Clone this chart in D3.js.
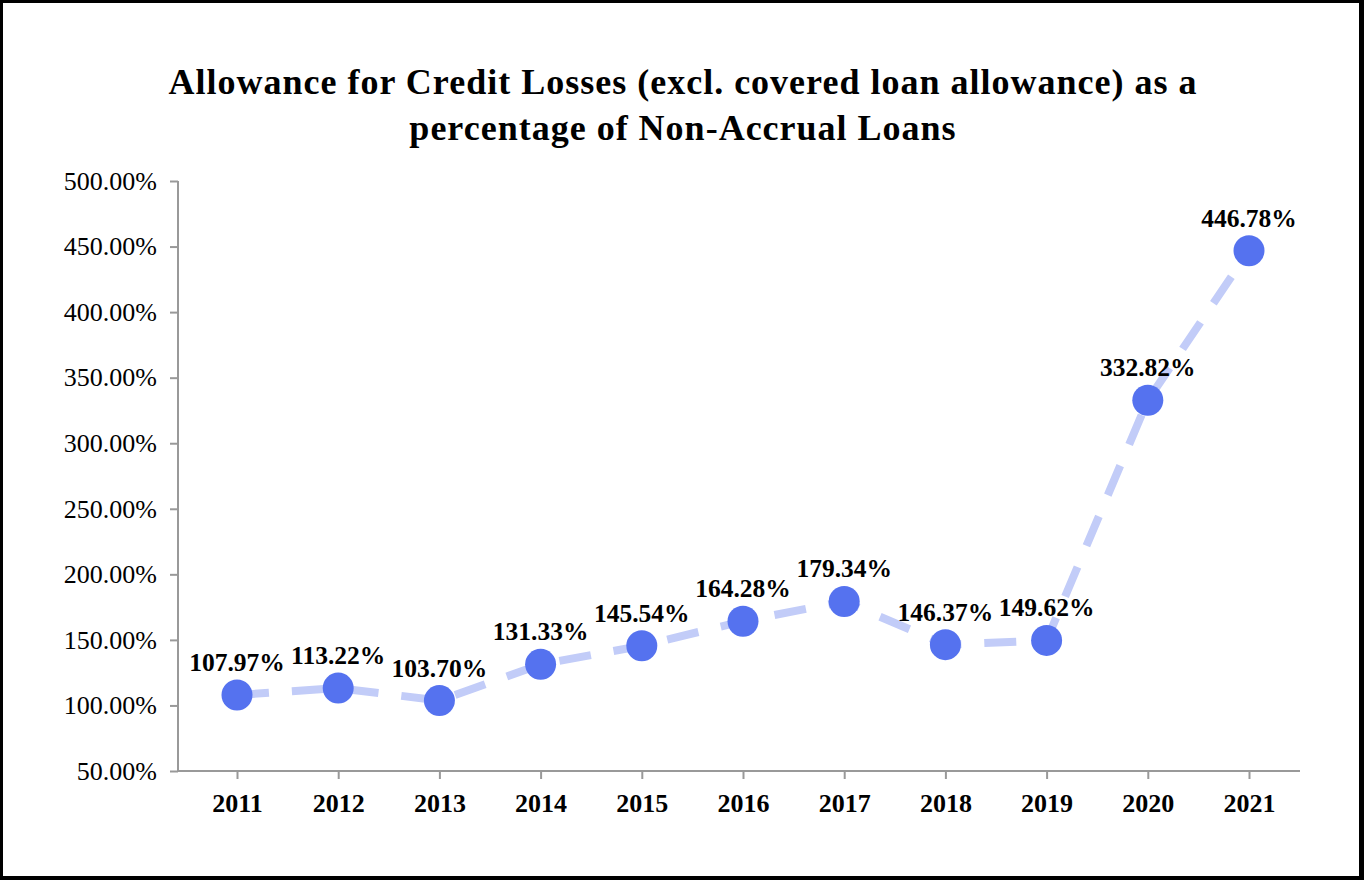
<!DOCTYPE html>
<html>
<head>
<meta charset="utf-8">
<script src="https://cdn.jsdelivr.net/npm/d3@7"></script>
<style>
  html, body { margin: 0; padding: 0; background: #fff; }
  svg { display: block; }
  text { font-family: "Liberation Serif", "Times New Roman", serif; }
</style>
</head>
<body>
<svg id="chart" width="1364" height="880"></svg>
<script>
// chart data
const years = ["2011", "2012", "2013", "2014", "2015", "2016", "2017", "2018", "2019", "2020", "2021"];
const ratios = [107.97, 113.22, 103.70, 131.33, 145.54, 164.28, 179.34, 146.37, 149.62, 332.82, 446.78];
const yTicks = [50, 100, 150, 200, 250, 300, 350, 400, 450, 500];
const titleLines = [
    "Allowance for Credit Losses (excl. covered loan allowance) as a",
    "percentage of Non-Accrual Loans"
];

const svg = d3.select("#chart");
const W = 1364, H = 880;

// frame
svg.append("rect").attr("width", W).attr("height", H).attr("fill", "#000");
svg.append("rect").attr("x", 3).attr("y", 3).attr("width", 1356).attr("height", 873).attr("fill", "#fff");

// title
svg.append("text")
    .attr("text-anchor", "middle")
    .attr("font-weight", "bold")
    .attr("font-size", 36)
    .attr("letter-spacing", 1)
    .selectAll("tspan")
    .data(titleLines)
    .enter()
    .append("tspan")
    .attr("x", 683)
    .attr("y", function (d, i) { return 94 + i * 46 })
    .text(function (d) { return d });

const plotLeft = 178, plotRight = 1300, plotTop = 181, plotBottom = 771;

const x = d3.scalePoint().domain(years).range([237, 1249]);
const y = d3.scaleLinear().domain([50, 500]).range([plotBottom, plotTop]);

const axisColor = "#999";

// y axis
const yAxis = svg.append("g")
    .attr("transform", `translate(${plotLeft},0)`)
    .call(d3.axisLeft(y).tickValues(yTicks).tickSize(8).tickPadding(13)
        .tickFormat(function (d) { return d.toFixed(2) + "%" }));
yAxis.select(".domain").remove();
yAxis.selectAll(".tick line").attr("stroke", axisColor).attr("stroke-width", 2);
yAxis.selectAll(".tick text")
    .attr("font-family", "Liberation Serif, Times New Roman, serif")
    .attr("font-size", 26)
    .attr("fill", "#000");
svg.append("line")
    .attr("x1", plotLeft).attr("x2", plotLeft)
    .attr("y1", plotTop).attr("y2", plotBottom)
    .attr("stroke", axisColor).attr("stroke-width", 2);

// x axis
const xAxis = svg.append("g")
    .attr("transform", `translate(0,${plotBottom})`)
    .call(d3.axisBottom(x).tickSize(8).tickPadding(15));
xAxis.select(".domain").remove();
xAxis.selectAll(".tick line").attr("stroke", axisColor).attr("stroke-width", 2);
xAxis.selectAll(".tick text")
    .attr("font-family", "Liberation Serif, Times New Roman, serif")
    .attr("font-size", 26)
    .attr("font-weight", "bold")
    .attr("fill", "#000");
svg.append("line")
    .attr("x1", plotLeft).attr("x2", plotRight)
    .attr("y1", plotBottom).attr("y2", plotBottom)
    .attr("stroke", axisColor).attr("stroke-width", 2);

const points = years.map(function (yr, i) { return { year: yr, value: ratios[i] } });

// dashed line
const line = d3.line()
    .x(function (d) { return x(d.year) })
    .y(function (d) { return y(d.value) });
svg.append("path")
    .datum(points)
    .attr("d", line)
    .attr("fill", "none")
    .attr("stroke", "#c2ccf8")
    .attr("stroke-width", 8)
    .attr("stroke-dasharray", "32,23");

// dots
svg.selectAll("circle.dot")
    .data(points)
    .enter()
    .append("circle")
    .attr("class", "dot")
    .attr("cx", function (d) { return x(d.year) })
    .attr("cy", function (d) { return y(d.value) })
    .attr("r", 15.5)
    .attr("fill", "#5572ef");

// value labels
svg.selectAll("text.lbl")
    .data(points)
    .enter()
    .append("text")
    .attr("class", "lbl")
    .attr("x", function (d) { return x(d.year) })
    .attr("y", function (d) { return y(d.value) - 24 })
    .attr("text-anchor", "middle")
    .attr("font-weight", "bold")
    .attr("font-size", 25.5)
    .text(function (d) { return d.value.toFixed(2) + "%" });
</script>
</body>
</html>
